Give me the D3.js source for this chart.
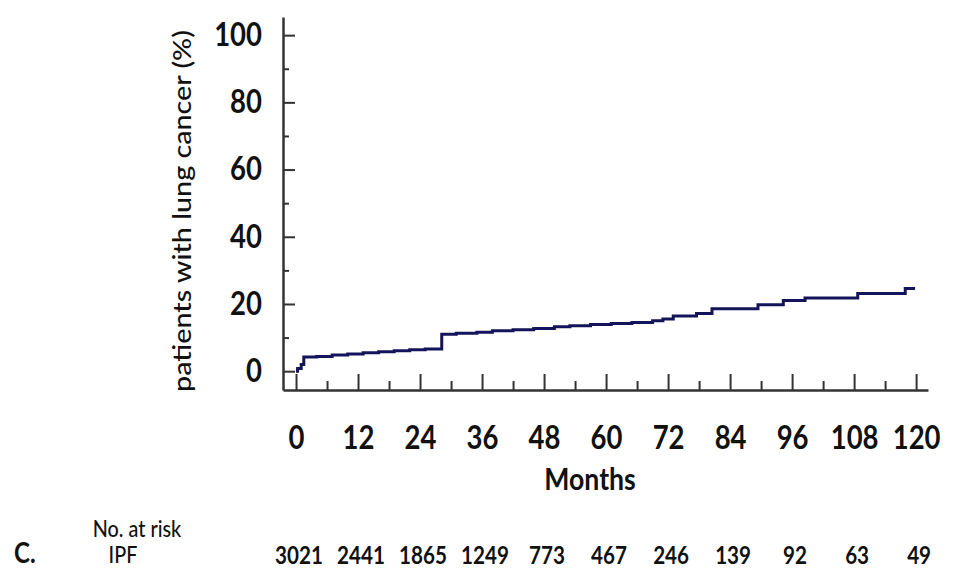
<!DOCTYPE html>
<html>
<head>
<meta charset="utf-8">
<script src="https://cdn.jsdelivr.net/npm/d3@7"></script>
<style>
  body { margin: 0; background: #fff; }
  text { font-family: Lato, "Open Sans", sans-serif; fill: #111; }
</style>
</head>
<body>
<svg id="js-svg" width="955" height="573"></svg>
<script>
// cumulative incidence (step curve)
const months = [0, 0.3, 1, 1.5, 4, 7, 10, 13, 16, 19, 22, 25, 28.2, 31, 35, 38, 42, 46, 50, 53, 57, 61, 65, 69, 71, 73, 77.5, 80.5, 89.4, 94.3, 98.5, 108.7, 117.9, 119.8];
const pct    = [0, 0.8, 2.0, 4.2, 4.4, 4.8, 5.1, 5.5, 5.8, 6.1, 6.4, 6.6, 11.0, 11.3, 11.6, 12.0, 12.3, 12.7, 13.2, 13.5, 13.9, 14.2, 14.5, 15.0, 15.5, 16.4, 17.2, 18.6, 19.8, 21.0, 21.8, 23.1, 24.6, 24.6];

const xTicks = [0, 12, 24, 36, 48, 60, 72, 84, 96, 108, 120];
const xMinor = [6, 18, 30, 42, 54, 66, 78, 90, 102, 114];
const yTicks = [0, 20, 40, 60, 80, 100];
const yMinor = [10, 30, 50, 70, 90];
const riskIPF = [3021, 2441, 1865, 1249, 773, 467, 246, 139, 92, 63, 49];

const svg = d3.select("#js-svg");
const axisColor = "#333";
const squeeze = 0.86; // narrow look of the original font

const x = d3.scaleLinear().domain([-2.52, 122.3]).range([283, 928]);
const y = d3.scaleLinear().domain([-5.6, 105.4]).range([390, 17]);

// y axis
const yAxis = svg.append("g").attr("transform", `translate(${x.range()[0]},0)`);
yAxis.call(d3.axisLeft(y).tickValues(yTicks).tickSize(-12).tickSizeOuter(0).tickPadding(21));
yAxis.append("g").call(d3.axisLeft(y).tickValues(yMinor).tickSize(-6).tickFormat(""))
  .select(".domain").remove();
yAxis.selectAll(".domain").attr("stroke", axisColor).attr("stroke-width", 2.5);
yAxis.selectAll(".tick line").attr("stroke", axisColor).attr("stroke-width", 2);
yAxis.selectAll(".tick text")
  .attr("x", -21 / squeeze)
  .attr("transform", `scale(${squeeze},1)`)
  .style("font-family", "Lato, sans-serif")
  .style("font-size", "32px")
  .style("font-weight", "bold")
  .attr("fill", "#111");

// x axis
const xAxis = svg.append("g").attr("transform", `translate(0,${y.range()[0]})`);
xAxis.call(d3.axisBottom(x).tickValues(xTicks).tickSize(-16).tickSizeOuter(0).tickPadding(36));
xAxis.append("g").call(d3.axisBottom(x).tickValues(xMinor).tickSize(-9).tickFormat(""))
  .select(".domain").remove();
xAxis.selectAll(".domain").attr("stroke", axisColor).attr("stroke-width", 2.5);
xAxis.selectAll(".tick line").attr("stroke", axisColor).attr("stroke-width", 2);
xAxis.selectAll(".tick text")
  .attr("transform", `scale(${squeeze},1)`)
  .style("font-family", "Lato, sans-serif")
  .style("font-size", "32px")
  .style("font-weight", "bold")
  .attr("fill", "#111");

// the curve
const line = d3.line()
  .x((d, i) => x(months[i]))
  .y((d) => y(d))
  .curve(d3.curveStepAfter);

svg.append("path")
  .datum(pct)
  .attr("d", line)
  .attr("fill", "none")
  .attr("stroke", "#14145a")
  .attr("stroke-width", 3);

// small helper for the narrow labels
function label(px, py, str, size, weight, anchor) {
  return svg.append("text")
    .attr("transform", `translate(${px},${py}) scale(${squeeze},1)`)
    .attr("text-anchor", anchor || "middle")
    .style("font-size", size + "px")
    .style("font-weight", weight || "normal")
    .text(str);
}

// axis titles
svg.append("text")
  .attr("transform", "translate(191,211) rotate(-90)")
  .attr("text-anchor", "middle")
  .attr("textLength", 362)
  .attr("lengthAdjust", "spacingAndGlyphs")
  .style("font-size", "25px")
  .style("font-weight", "500")
  .text("patients with lung cancer (%)");

label(590, 490, "Months", 31, "bold");

// number at risk table
label(14, 563, "C.", 28, "bold", "start");
label(137, 537, "No. at risk", 23, "500");
label(123, 563, "IPF", 23, "500");

svg.append("g")
  .selectAll("text")
  .data(riskIPF)
  .join("text")
  .attr("transform", (d, i) => `translate(${x(xTicks[i]) + 3},564) scale(${squeeze},1)`)
  .attr("text-anchor", "middle")
  .style("font-size", "24px")
  .style("font-weight", "bold")
  .text((d) => d);
</script>
</body>
</html>
